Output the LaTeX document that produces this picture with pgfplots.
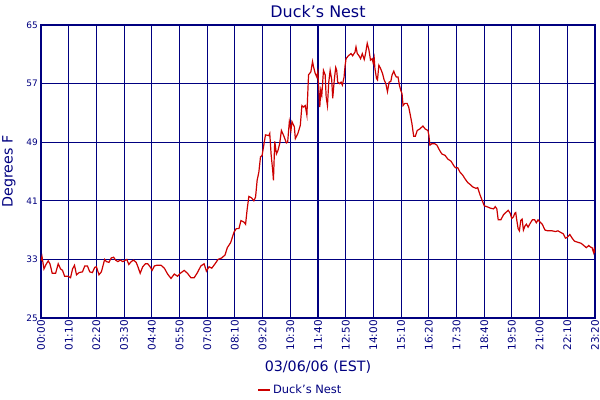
\documentclass[border=0pt]{standalone}
\usepackage{fontspec}
\setmainfont{DejaVu Sans}
\usepackage{pgfplots}
\pgfplotsset{compat=1.18}
\definecolor{navy}{RGB}{0,0,128}
\definecolor{linered}{RGB}{204,0,0}
\begin{document}
\begin{tikzpicture}
\begin{axis}[
    at={(0,0)}, anchor=south west,
    scale only axis,
    width=554bp, height=293bp,
    xmin=0, xmax=1400, ymin=25, ymax=65,
    xtick={0,70,...,1400},
    xticklabels={00:00,01:10,02:20,03:30,04:40,05:50,07:00,08:10,09:20,10:30,11:40,12:50,14:00,15:10,16:20,17:30,18:40,19:50,21:00,22:10,23:20},
    ytick={25,33,41,49,57,65},
    major tick length=0pt,
    grid=major,
    major grid style={navy, line width=1.1bp},
    axis line style={navy, line width=1.3bp},
    /pgf/number format/assume math mode=true,
    xticklabel style={rotate=90, anchor=east, text=navy, font=\fontsize{10.5}{12}\selectfont, inner sep=2bp},
    yticklabel style={text=navy, font=\fontsize{9}{10}\selectfont, inner sep=3bp},
    title={Duck's Nest},
    title style={at={(axis description cs:0.5,1)}, anchor=center, yshift=7.5bp, text=navy, font=\fontsize{16}{18}\selectfont},
    xlabel={03/06/06 (EST)},
    xlabel style={at={(axis description cs:0.5,0)}, anchor=center, yshift=-49bp, text=navy, font=\fontsize{14.3}{16}\selectfont},
    ylabel={Degrees F},
    ylabel style={at={(axis description cs:-0.0578,0.5)}, anchor=center, text=navy, font=\fontsize{14.3}{16}\selectfont},
    legend style={at={(axis description cs:0.468,-0.2457)}, anchor=center, draw=none, fill=none, text=navy, font=\fontsize{11.5}{13}\selectfont, inner sep=0pt},
    legend image code/.code={\draw[#1, line width=2bp] (0bp,0bp) -- (12bp,0bp);},
    clip=true,
]
\addplot[linered, line width=1.2bp] coordinates {
(0,32.8) (2.5,33.4) (7.5,31.7) (12.6,32.3) (18.3,32.8) (22.6,32.4) (28.4,31.1) (36.9,31.1) (43.5,32.4) (49.5,31.7)
(54.5,31.5) (59.6,30.7) (68.6,30.7) (74.7,30.5) (79.7,31.7) (84.7,32.2) (89.7,30.9) (96.3,31.2) (104.8,31.3) (110.6,32.1)
(117.4,32.1) (123.2,31.3) (129.9,31.2) (135.7,31.9) (140.0,32.0) (146.5,30.9) (152.6,31.3) (160.9,33.0) (165.1,32.7) (171.7,32.6)
(177.7,33.2) (183.5,33.3) (188.5,32.9) (194.3,32.7) (200.3,32.9) (206.9,32.7) (213.6,32.9) (216.9,33.0) (221.9,32.3) (228.0,32.7)
(233.8,32.9) (240.5,32.6) (245.6,31.9) (250.6,31.1) (257.1,32.0) (263.9,32.4) (269.7,32.4) (275.7,32.0) (280.8,31.5) (286.5,32.1)
(292.3,32.2) (297.3,32.2) (303.4,32.2) (311.7,31.8) (320.0,31.0) (328.5,30.4) (336.8,31.0) (345.1,30.7) (351.9,31.1) (361.9,31.5)
(370.2,31.1) (378.8,30.5) (387.1,30.5) (395.4,31.2) (403.9,32.1) (412.2,32.4) (418.0,31.4) (424.8,32.0) (431.6,31.8) (439.9,32.4)
(447.4,33.0) (456.7,33.2) (465.0,33.6) (470.8,34.6) (479.3,35.3) (487.6,36.7) (493.4,37.2) (500.2,37.2) (505.2,38.3) (512.8,38.1)
(517.0,37.8) (521.1,39.9) (525.3,41.6) (532.1,41.4) (537.9,41.0) (542.2,41.5) (546.2,43.8) (550.5,44.9) (554.7,47.0) (558.8,47.2)
(563.0,48.6) (567.3,50.0) (575.6,49.9) (578.1,50.2) (581.4,47.4) (585.6,45.1) (587.4,43.8) (590.7,49.1) (594.9,47.4) (599.0,47.9)
(603.2,48.8) (607.5,50.6) (613.3,49.9) (620.1,48.9) (623.3,49.0) (627.6,51.8) (631.6,50.6) (634.2,51.8) (640.2,51.1) (642.7,49.5)
(649.2,50.2) (655.3,51.3) (659.3,54.0) (663.6,53.8) (667.8,54.0) (671.9,52.7) (676.1,58.2) (681.9,58.6) (686.2,60.0) (688.7,59.3)
(692.9,58.4) (697.0,57.9) (699.5,58.6) (702.0,56.3) (704.5,53.8) (707.0,56.1) (709.6,55.4) (713.8,58.8) (718.1,58.2) (720.6,55.2)
(723.9,54.0) (727.2,57.2) (730.7,58.8) (734.7,57.5) (737.2,55.0) (741.5,57.7) (744.8,59.2) (747.3,58.8) (749.8,57.2) (754.1,57.0)
(758.3,57.2) (761.6,56.8) (765.9,57.9) (768.4,59.4) (770.9,60.4) (776.7,60.8) (783.5,61.1) (787.5,60.8) (793.5,61.3) (796.0,62.0)
(799.3,61.1) (803.6,60.8) (807.6,60.4) (811.9,61.1) (816.9,60.3) (820.2,61.1) (824.4,62.5) (828.7,61.6) (832.7,60.2) (837.0,60.4)
(839.5,59.8) (842.0,60.5) (843.8,59.1) (847.8,57.7) (850.3,57.5) (853.8,59.5) (857.9,59.1) (862.9,58.4) (867.2,57.5) (871.4,57.0)
(875.5,55.9) (879.7,57.2) (884.0,57.3) (887.3,58.2) (891.5,58.7) (894.8,58.2) (898.1,57.9) (902.3,57.9) (905.6,56.8) (909.1,56.1)
(912.4,55.6) (914.9,54.0) (919.2,54.3) (925.0,54.3) (929.2,53.8) (933.3,52.7) (937.5,51.5) (941.8,49.8) (945.8,49.8) (950.9,50.6)
(956.9,50.8) (965.2,51.2) (971.0,50.8) (977.8,50.6) (980.3,49.9) (982.8,48.6) (987.8,48.8) (994.6,48.8) (1000.4,48.6) (1007.2,47.9)
(1012.9,47.4) (1021.2,47.2) (1028.0,46.7) (1036.3,46.4) (1043.1,45.8) (1047.4,45.5) (1053.2,45.5) (1059.0,44.9) (1065.7,44.5) (1071.5,44.0)
(1078.3,43.5) (1085.1,43.2) (1090.9,42.9) (1099.2,42.7) (1103.5,42.8) (1110.2,41.7) (1116.0,40.9) (1120.3,40.3) (1126.8,40.2) (1135.3,40.0)
(1143.6,39.9) (1147.9,40.2) (1151.9,39.9) (1155.4,38.4) (1162.0,38.4) (1168.8,39.1) (1174.6,39.4) (1180.6,39.7) (1185.6,39.3) (1189.7,38.6)
(1193.9,38.8) (1197.2,39.3) (1199.7,39.4) (1202.2,38.4) (1205.7,37.2) (1209.0,36.9) (1212.3,38.3) (1215.8,38.5) (1219.1,37.0) (1223.3,37.6)
(1226.6,37.8) (1230.9,37.4) (1235.9,37.9) (1241.7,38.4) (1247.5,38.4) (1251.7,38.0) (1256.0,38.4) (1261.0,38.1) (1266.8,37.8) (1273.6,37.0)
(1281.1,36.9) (1291.9,36.9) (1300.2,36.8) (1306.3,36.9) (1312.8,36.7) (1319.6,36.5) (1325.4,35.9) (1329.6,36.0) (1336.4,36.4) (1342.2,35.9)
(1348.0,35.5) (1353.0,35.4) (1359.0,35.3) (1364.8,35.2) (1371.6,34.9) (1378.1,34.6) (1384.2,34.9) (1388.2,34.7) (1392.5,34.6) (1396.7,33.9)
(1398.2,34.4) (1400,33.9)
};
\addlegendentry{Duck's Nest}
\end{axis}
\pgfresetboundingbox
\path[use as bounding box] (-41bp,-82bp) rectangle (559bp,318bp);
\end{tikzpicture}
\end{document}
